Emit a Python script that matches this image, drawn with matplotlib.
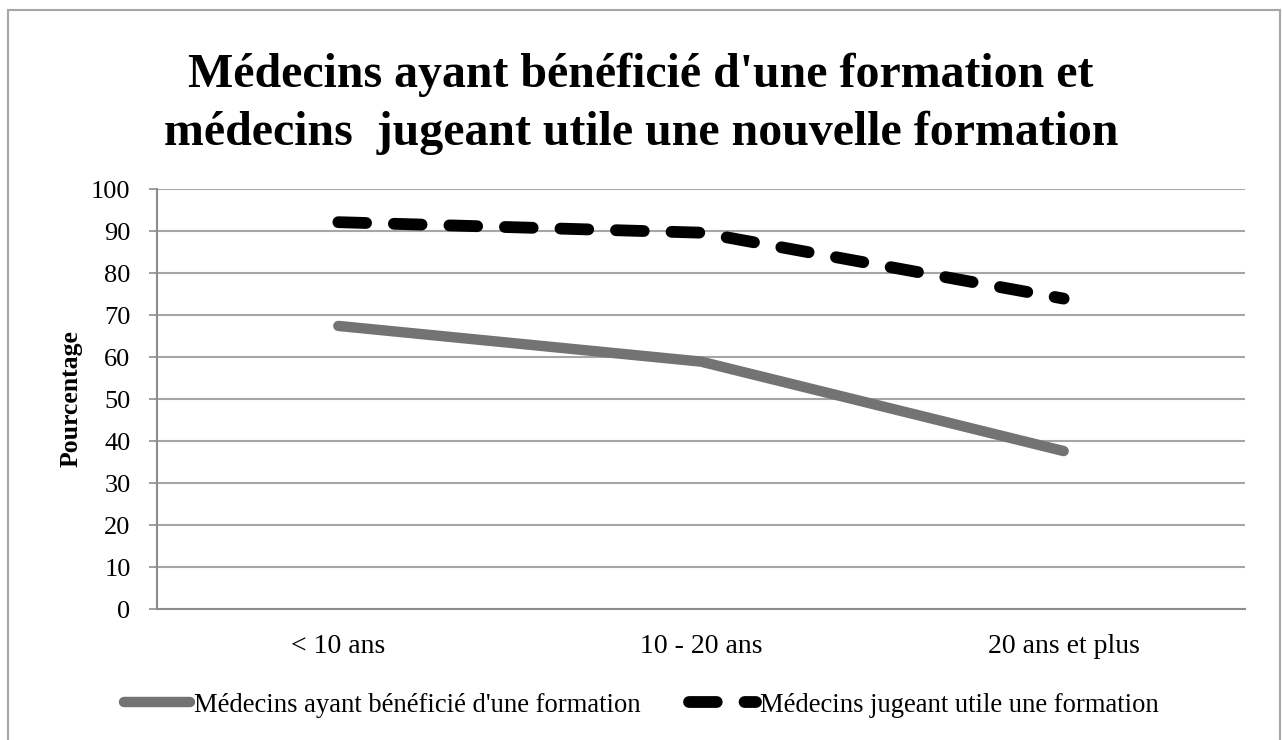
import matplotlib
matplotlib.use("Agg")
import matplotlib.pyplot as plt
from matplotlib.lines import Line2D
from matplotlib.patches import Rectangle

categories = ["< 10 ans", "10 - 20 ans", "20 ans et plus"]
beneficie = [67.4, 58.9, 37.6]
jugeant_utile = [92.1, 89.6, 73.9]
series_names = ["Médecins ayant bénéficié d'une formation",
                "Médecins jugeant utile une formation"]
yticks = list(range(0, 101, 10))
title = "Médecins ayant bénéficié d'une formation et\nmédecins  jugeant utile une nouvelle formation"

plt.rcParams['font.family'] = ['Liberation Serif', 'DejaVu Serif']
plt.rcParams['lines.scale_dashes'] = False

fig = plt.figure(figsize=(12.82, 7.4), dpi=100)
# outer border
fig.add_artist(Rectangle((8/1282, -0.05), (1280-8)/1282, 1 - 10/740 + 0.05,
                         transform=fig.transFigure, fill=False,
                         edgecolor='#a6a6a6', linewidth=1.5))

ax = fig.add_axes([157/1282, 1-609/740, (1245-157)/1282, (609-189)/740])
x = list(range(len(categories)))
ax.plot(x, beneficie, color='#737373', linewidth=7.5, solid_capstyle='round',
        solid_joinstyle='round', zorder=3)
ax.plot(x, jugeant_utile, color='black', linewidth=8.5, dashes=(20, 20),
        dash_capstyle='round', dash_joinstyle='round', zorder=3)

ax.set_xlim(-0.5, len(categories) - 0.5)
ax.set_ylim(0, 100)
ax.set_yticks(yticks)
ax.set_yticklabels([str(v) for v in yticks], fontsize=19)
ax.set_xticks(x)
ax.set_xticklabels(categories, fontsize=20)
ax.tick_params(axis='x', length=0, pad=18)
ax.tick_params(axis='y', length=6, width=1.2, color='#8c8c8c', pad=13)
ax.grid(axis='y', color='#a6a6a6', linewidth=1.5, zorder=0)
for s in ['top', 'right']:
    ax.spines[s].set_visible(False)
for s in ['left', 'bottom']:
    ax.spines[s].set_color('#8c8c8c')
    ax.spines[s].set_linewidth(1.5)
ax.set_ylabel("Pourcentage", fontsize=18.5, fontweight='bold')
ax.yaxis.set_label_coords((83 - 157) / 1088, 0.5)

fig.text(0.5, 1 - 104/740, title, ha='center', va='center', fontsize=34.5,
         fontweight='bold', linespacing=1.4)

handles = [Line2D([], [], color='#737373', linewidth=7.5, solid_capstyle='round'),
           Line2D([], [], color='black', linewidth=8.5, dashes=(20, 20),
                  dash_capstyle='round')]
fig.legend(handles, series_names, loc='center', bbox_to_anchor=(0.5, 1 - 705/740),
           ncol=2, frameon=False, fontsize=19.2, handlelength=2.5,
           handletextpad=0.15, columnspacing=1.8)

fig.savefig("out.png", dpi=100)
